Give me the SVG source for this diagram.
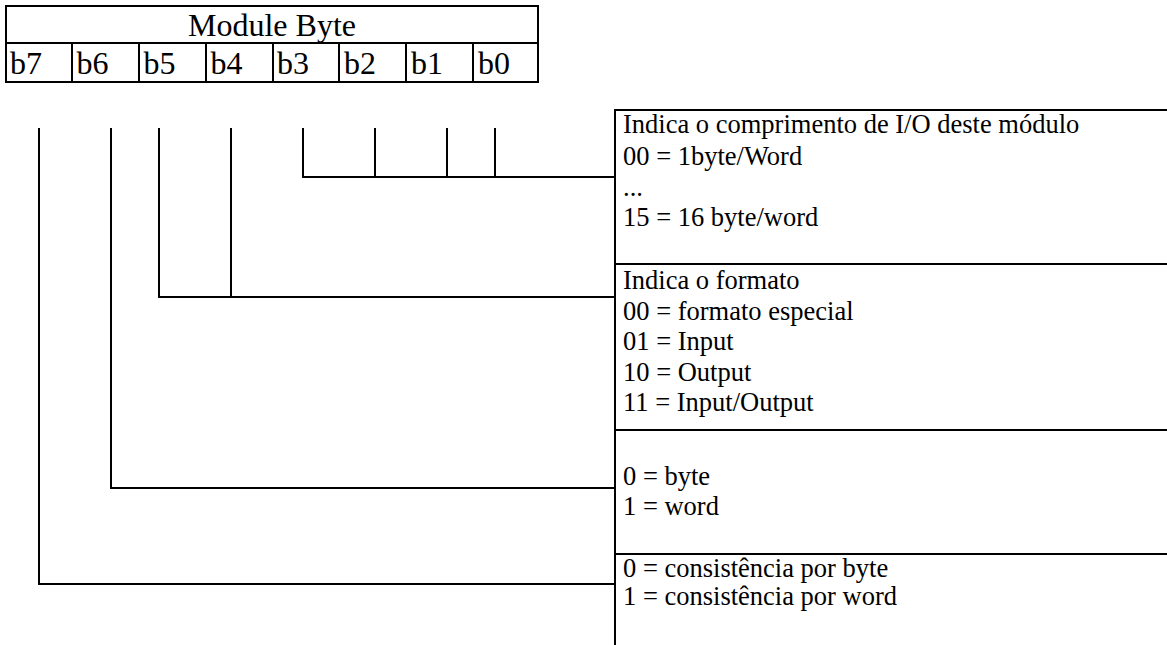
<svg xmlns="http://www.w3.org/2000/svg" width="1167" height="645" viewBox="0 0 1167 645">
<style>
  .ln { stroke: #000; stroke-width: 2; fill: none; }
  .cn { stroke: #000; stroke-width: 2; fill: none; }
  .tb { font-family: "Liberation Serif", "Times New Roman", serif; font-size: 32px; fill: #000; }
  .tx { font-family: "Liberation Serif", "Times New Roman", serif; font-size: 26.5px; fill: #000; }
</style>
<rect width="1167" height="645" fill="#fff"/>
<g id="module-byte">
  <rect class="ln" x="6" y="6" width="532" height="76"/>
  <line class="ln" x1="6" y1="43" x2="538" y2="43"/>
  <line class="ln" x1="72" y1="43" x2="72" y2="82"/>
  <line class="ln" x1="139" y1="43" x2="139" y2="82"/>
  <line class="ln" x1="206" y1="43" x2="206" y2="82"/>
  <line class="ln" x1="273" y1="43" x2="273" y2="82"/>
  <line class="ln" x1="339" y1="43" x2="339" y2="82"/>
  <line class="ln" x1="406" y1="43" x2="406" y2="82"/>
  <line class="ln" x1="473" y1="43" x2="473" y2="82"/>
  <text class="tb" x="272" y="36" text-anchor="middle">Module Byte</text>
  <text class="tb" x="10" y="74">b7</text>
  <text class="tb" x="76.5" y="74">b6</text>
  <text class="tb" x="143.5" y="74">b5</text>
  <text class="tb" x="210.5" y="74">b4</text>
  <text class="tb" x="277" y="74">b3</text>
  <text class="tb" x="344" y="74">b2</text>
  <text class="tb" x="411" y="74">b1</text>
  <text class="tb" x="478" y="74">b0</text>
</g>
<g id="box-frame">
  <line class="ln" x1="615" y1="110" x2="615" y2="645"/>
  <line class="ln" x1="614" y1="110" x2="1167" y2="110"/>
</g>
<g id="box-length">
  <text class="tx" x="623" y="133">Indica o comprimento de I/O deste módulo</text>
  <text class="tx" x="623" y="165">00 = 1byte/Word</text>
  <text class="tx" x="623" y="196">...</text>
  <text class="tx" x="623" y="226">15 = 16 byte/word</text>
</g>
<g id="box-format">
  <line class="ln" x1="615" y1="264" x2="1167" y2="264"/>
  <text class="tx" x="623" y="289">Indica o formato</text>
  <text class="tx" x="623" y="320">00 = formato especial</text>
  <text class="tx" x="623" y="350">01 = Input</text>
  <text class="tx" x="623" y="381">10 = Output</text>
  <text class="tx" x="623" y="411">11 = Input/Output</text>
</g>
<g id="box-size">
  <line class="ln" x1="615" y1="430" x2="1167" y2="430"/>
  <text class="tx" x="623" y="485">0 = byte</text>
  <text class="tx" x="623" y="515">1 = word</text>
</g>
<g id="box-consistency">
  <line class="ln" x1="615" y1="554" x2="1167" y2="554"/>
  <text class="tx" x="623" y="577">0 = consistência por byte</text>
  <text class="tx" x="623" y="605">1 = consistência por word</text>
</g>
<g id="connectors">
  <polyline class="cn" points="303,128 303,177 615,177"/>
  <line class="cn" x1="375" y1="128" x2="375" y2="177"/>
  <line class="cn" x1="447" y1="128" x2="447" y2="177"/>
  <line class="cn" x1="495" y1="128" x2="495" y2="177"/>
  <polyline class="cn" points="159,128 159,297 615,297"/>
  <line class="cn" x1="231" y1="128" x2="231" y2="297"/>
  <polyline class="cn" points="111,128 111,488 615,488"/>
  <polyline class="cn" points="39,128 39,584 615,584"/>
</g>
</svg>
